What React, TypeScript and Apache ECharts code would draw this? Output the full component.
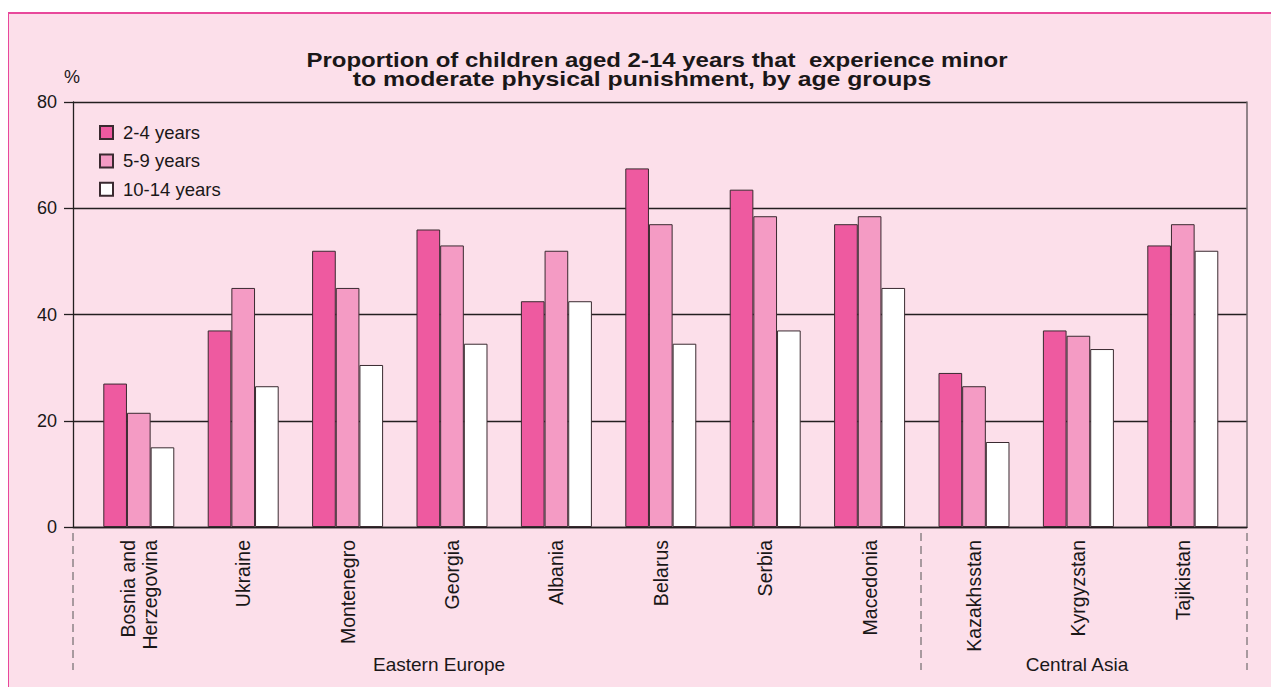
import React, { useEffect, useRef } from "react";
import * as echarts from "echarts";

const categories = [
  "Bosnia and\nHerzegovina",
  "Ukraine",
  "Montenegro",
  "Georgia",
  "Albania",
  "Belarus",
  "Serbia",
  "Macedonia",
  "Kazakhsstan",
  "Kyrgyzstan",
  "Tajikistan",
];
const seriesNames = ["2-4 years", "5-9 years", "10-14 years"];
const age2to4 = [27, 37, 52, 56, 42.5, 67.5, 63.5, 57, 29, 37, 53];
const age5to9 = [21.5, 45, 45, 53, 52, 57, 58.5, 58.5, 26.5, 36, 57];
const age10to14 = [15, 26.5, 30.5, 34.5, 42.5, 34.5, 37, 45, 16, 33.5, 52];
const yTicks = [0, 20, 40, 60, 80];
const groups = ["Eastern Europe", "Central Asia"];
const titleLines = [
  "Proportion of children aged 2-14 years that  experience minor",
  "to moderate physical punishment, by age groups",
];

const FONT = "'Liberation Sans', Arial, Helvetica, sans-serif";
const TEXT = "#1a1718";
const BG = "#fcdfea";
const LINE = "#231f20";
const colors = ["#ee5aa0", "#f49bc4", "#ffffff"];

export default function App() {
  const ref = useRef<HTMLDivElement>(null);
  useEffect(() => {
    if (!ref.current) return;
    const chart = echarts.init(ref.current, null, { renderer: "svg" });
    const data = [age2to4, age5to9, age10to14];
    const dashed = {
      stroke: "#555",
      lineWidth: 1,
      lineDash: [8, 5],
    };
    const titleStyle = (text: string) => ({
      text,
      fontFamily: FONT,
      fontWeight: "bold",
      fontSize: 20,
      fill: TEXT,
      align: "center",
      verticalAlign: "middle",
    });
    chart.setOption({
      animation: false,
      backgroundColor: BG,
      legend: {
        orient: "vertical",
        left: 85,
        top: 104,
        itemWidth: 13,
        itemHeight: 13,
        itemGap: 9.4,
        icon: "rect",
        data: seriesNames,
        textStyle: { fontFamily: FONT, fontSize: 18.5, color: TEXT, lineHeight: 13, padding: [0, 0, 0, 5] },
      },
      grid: [
        { left: 64, top: 88, width: 1174, height: 425 },
        { left: 77.6, top: 88, width: 1148.4, height: 425 },
      ],
      xAxis: [
        {
          gridIndex: 0,
          type: "category",
          data: [""],
          axisLine: { show: true, lineStyle: { color: LINE, width: 1.3 } },
          axisTick: { show: false },
          axisLabel: { show: false },
          splitLine: { show: false },
        },
        {
          gridIndex: 1,
          type: "category",
          data: categories,
          axisLine: { show: false },
          axisTick: { show: false },
          axisLabel: {
            rotate: 90,
            margin: 13,
            fontSize: 19.5,
            lineHeight: 22,
            color: TEXT,
            fontFamily: FONT,
            interval: 0,
          },
        },
      ],
      yAxis: [
        {
          gridIndex: 0,
          type: "value",
          min: yTicks[0],
          max: yTicks[yTicks.length - 1],
          interval: 20,
          axisLine: { show: true, lineStyle: { color: LINE, width: 1.3 } },
          axisTick: { show: true, length: 9, lineStyle: { color: LINE, width: 1.3 } },
          axisLabel: { margin: 16, fontSize: 18, color: TEXT, fontFamily: FONT },
          splitLine: { show: true, lineStyle: { color: LINE, width: 1.4 } },
        },
        {
          gridIndex: 0,
          type: "value",
          position: "right",
          min: 0,
          max: 80,
          interval: 20,
          axisLine: { show: true, lineStyle: { color: "#6e6468", width: 1.5 } },
          axisTick: { show: false },
          axisLabel: { show: false },
          splitLine: { show: false },
        },
        { gridIndex: 1, type: "value", min: 0, max: 80, interval: 20, show: false },
      ],
      series: seriesNames.map((name, i) => ({
        name,
        type: "bar",
        xAxisIndex: 1,
        yAxisIndex: 2,
        barGap: "0%",
        barCategoryGap: "32%",
        data: data[i],
        itemStyle: { color: colors[i], borderColor: "#3a2a30", borderWidth: 1 },
      })),
      graphic: [
        { type: "text", x: 648, y: 46, scaleX: 1.2, style: titleStyle(titleLines[0]) },
        { type: "text", x: 633, y: 65, scaleX: 1.24, style: titleStyle(titleLines[1]) },
        {
          type: "text",
          left: 55,
          top: 54,
          style: { text: "%", fontFamily: FONT, fontSize: 18, fill: TEXT },
        },
        { type: "line", shape: { x1: 64, y1: 519, x2: 64, y2: 656 }, style: dashed },
        { type: "line", shape: { x1: 912, y1: 519, x2: 912, y2: 656 }, style: dashed },
        { type: "line", shape: { x1: 1238, y1: 519, x2: 1238, y2: 656 }, style: dashed },
        {
          type: "text",
          x: 430,
          y: 650,
          style: { text: groups[0], fontFamily: FONT, fontSize: 19, fill: TEXT, align: "center", verticalAlign: "middle" },
        },
        {
          type: "text",
          x: 1068,
          y: 650,
          style: { text: groups[1], fontFamily: FONT, fontSize: 19, fill: TEXT, align: "center", verticalAlign: "middle" },
        },
      ],
    });
    return () => chart.dispose();
  }, []);

  return (
    <div style={{ position: "relative", width: 1263, height: 679, overflow: "hidden" }}>
      <div
        style={{
          position: "absolute",
          left: -1,
          top: 4,
          width: 1300,
          height: 700,
          border: "2px solid #e8489b",
          background: BG,
        }}
      >
        <div ref={ref} style={{ width: 1300, height: 700 }} />
      </div>
    </div>
  );
}
